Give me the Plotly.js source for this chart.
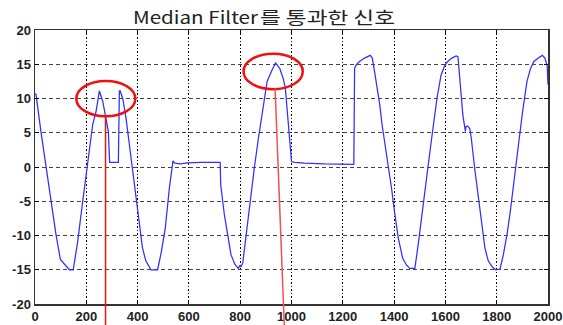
<!DOCTYPE html>
<html>
<head>
<meta charset="utf-8">
<script src="https://cdn.plot.ly/plotly-3.0.1.min.js"></script>
<style>
  html, body { margin: 0; padding: 0; background: #fff; }
  #chart { width: 563px; height: 325px; }
</style>
</head>
<body>
<div id="chart"></div>
<script>
// Median-filtered signal: sample index vs. amplitude
const sampleX = [
  0, 4, 23, 43, 62, 82, 99, 114, 134, 149, 166, 186, 205, 225, 238, 251, 264, 273, 281, 286,
  291, 325, 329, 332, 342, 355, 368, 381, 394, 406, 419, 432, 452, 478, 492, 508, 524, 538,
  545, 567, 593, 646, 722, 724, 738, 751, 764, 779, 793, 800, 803, 810, 823, 840, 855, 871,
  888, 905, 921, 938, 954, 967, 976, 984, 993, 1000, 1013, 1050, 1128, 1200, 1243, 1246,
  1252, 1265, 1285, 1307, 1315, 1324, 1335, 1344, 1353, 1363, 1376, 1390, 1403, 1416, 1433,
  1448, 1461, 1481, 1494, 1510, 1527, 1544, 1567, 1583, 1596, 1609, 1625, 1642, 1649, 1655,
  1662, 1668, 1675, 1678, 1680, 1686, 1695, 1701, 1714, 1728, 1741, 1754, 1767, 1783, 1796,
  1813, 1826, 1840, 1853, 1872, 1888, 1901, 1918, 1932, 1945, 1965, 1978, 1988, 1997, 2000
];
const sampleY = [
  10.7, 10.6, 5.2, -0.15, -5, -9.9, -13.5, -14.2, -15, -15, -11, -5, 0.8, 6.2, 8.1, 11.1, 9.6, 7.6, 5.7, 5.2,
  0.68, 0.68, 11.1, 11.1, 10, 7.1, 3.25, -0.6, -4.5, -8.4, -11.8, -13.7, -15, -15, -12.5, -8.9, -3, 0.9,
  0.55, 0.44, 0.6, 0.68, 0.68, -2.6, -6.9, -9.85, -12.8, -14.2, -14.8, -14.3, -14.6, -14, -9.85, -5, -0.15, 4.2,
  8.6, 12.5, 13.9, 15.2, 14.4, 13, 11.5, 7.6, 3.7, 0.8, 0.68, 0.55, 0.44, 0.35, 0.4, 14.4,
  14.9, 15.4, 15.9, 16.3, 15.9, 13.9, 11.5, 9.1, 6.2, 3.7, 0.8, -3.1, -6.9, -10.3, -13.25,
  -14.3, -14.8, -14.8, -11.3, -6.9, -1.5, 3.5, 10, 13.4, 14.7, 15.4, 15.9, 16.2, 16.1, 13.4,
  10, 7.6, 5.9, 5.2, 5.9, 6, 5.6, 4.2, -0.15, -4.5, -7.9, -11.8, -13.7, -14.6, -15,
  -14.9, -12.8, -9.9, -6.5, -1.1, 4.2, 8.1, 12.5, 14.4, 15.4, 16, 16.3, 15.9, 14.7, 12
];

const xTicks = [0, 200, 400, 600, 800, 1000, 1200, 1400, 1600, 1800, 2000];
const yTicks = [-20, -15, -10, -5, 0, 5, 10, 15, 20];
const titleLatin = 'Median Filter';
const titleHangul = '를 통과한 신호';

const tickFont = { family: 'Liberation Sans, Arial, sans-serif', size: 13, color: '#222', weight: 'bold' };

const trace = {
  x: sampleX,
  y: sampleY,
  type: 'scatter',
  mode: 'lines',
  line: { color: '#2f2fff', width: 1.25 },
  hoverinfo: 'skip'
};

// Red highlight marks around the two clipped peaks, with pointer lines
const red = '#ee1111';
const shapes = [
  { type: 'circle', xref: 'x', yref: 'y', x0: 161, x1: 391, y0: 7.4, y1: 12.55,
    line: { color: red, width: 2.5 } },
  { type: 'circle', xref: 'x', yref: 'y', x0: 813, x1: 1044, y0: 11.35, y1: 16.55,
    line: { color: red, width: 2.5 } },
  { type: 'line', xref: 'paper', yref: 'paper', x0: 0.1375, x1: 0.1375, y0: 0.685, y1: -0.08,
    line: { color: red, width: 1.5 } },
  { type: 'line', xref: 'paper', yref: 'paper', x0: 0.468, x1: 0.486, y0: 0.787, y1: -0.08,
    line: { color: '#f05050', width: 1.5 } }
];

const layout = {
  width: 563,
  height: 325,
  margin: { l: 35, r: 15, t: 30, b: 21 },
  paper_bgcolor: '#ffffff',
  plot_bgcolor: '#ffffff',
  showlegend: false,
  title: {
    text: titleLatin + titleHangul,
    font: { family: 'Noto Sans CJK KR, sans-serif', size: 17, color: '#222' },
    xref: 'container', x: 0.236, xanchor: 'left',
    yref: 'container', y: 0.946, yanchor: 'middle'
  },
  xaxis: {
    range: [0, 2000],
    tickvals: xTicks,
    ticktext: xTicks.map(String),
    ticks: 'inside', ticklen: 4, tickcolor: '#000',
    tickfont: tickFont,
    ticklabeloverflow: 'allow',
    showgrid: true, gridcolor: '#000', gridwidth: 1, griddash: '1.5px,2px',
    zeroline: false,
    showline: true, linecolor: '#333', linewidth: 1.5, mirror: 'ticks'
  },
  yaxis: {
    range: [-20, 20],
    tickvals: yTicks,
    ticktext: yTicks.map(String),
    ticks: 'inside', ticklen: 4, tickcolor: '#000',
    tickfont: tickFont,
    ticklabeloverflow: 'allow',
    showgrid: true, gridcolor: '#444', gridwidth: 1, griddash: '4px,3px',
    zeroline: false,
    showline: true, linecolor: '#333', linewidth: 1.5, mirror: 'ticks'
  },
  shapes: shapes
};

// Title is set in two runs: the Latin words, then the Hangul, each widened
function setTitleRuns() {
  const title = document.querySelector('.gtitle');
  if (!title || title.getAttribute('data-runs') === '1') return;
  const svgNS = 'http://www.w3.org/2000/svg';
  while (title.firstChild) title.removeChild(title.firstChild);
  title.setAttribute('text-anchor', 'start');
  const latin = document.createElementNS(svgNS, 'tspan');
  latin.setAttribute('x', '133');
  latin.setAttribute('textLength', '125');
  latin.setAttribute('lengthAdjust', 'spacingAndGlyphs');
  latin.textContent = titleLatin;
  const hangul = document.createElementNS(svgNS, 'tspan');
  hangul.setAttribute('x', '260');
  hangul.setAttribute('textLength', '135');
  hangul.setAttribute('lengthAdjust', 'spacingAndGlyphs');
  hangul.setAttribute('style', 'font-size:17.5px');
  hangul.textContent = titleHangul;
  title.appendChild(latin);
  title.appendChild(hangul);
  title.setAttribute('data-runs', '1');
}

const gd = document.getElementById('chart');
Plotly.newPlot(gd, [trace], layout, { staticPlot: true, displayModeBar: false })
  .then(function () {
    setTitleRuns();
    gd.on('plotly_afterplot', setTitleRuns);
  });
</script>
</body>
</html>
